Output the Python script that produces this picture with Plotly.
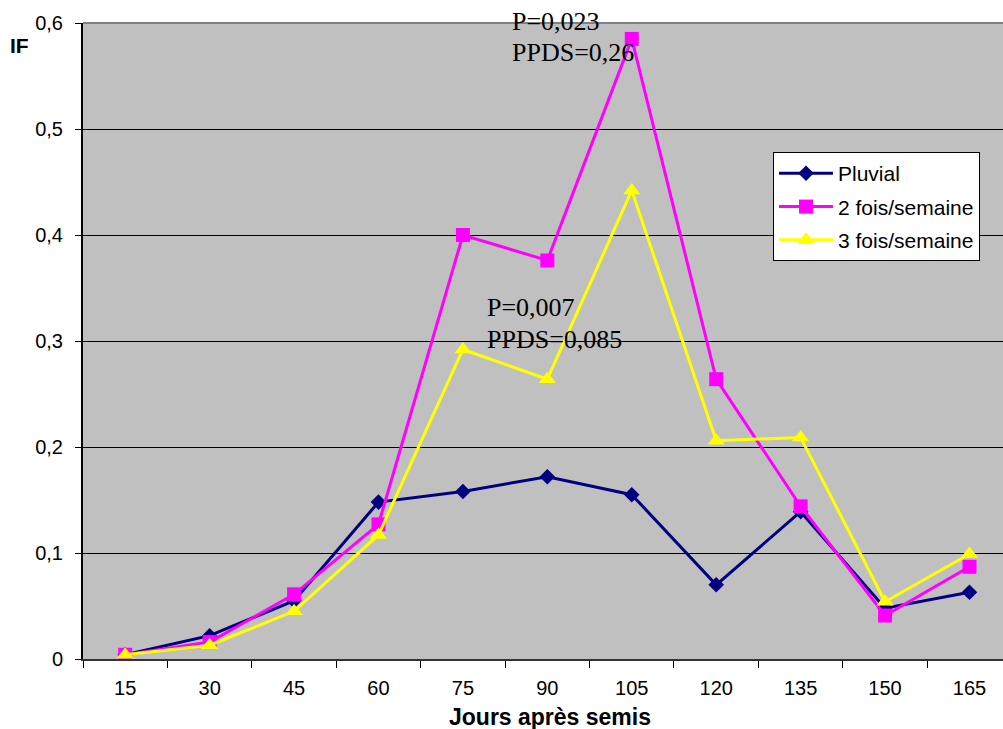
import plotly.graph_objects as go

# Days after sowing (x categories)
jours = ["15", "30", "45", "60", "75", "90", "105", "120", "135", "150", "165"]

# IF values per irrigation regime
pluvial = [0.004, 0.022, 0.055, 0.148, 0.158, 0.172, 0.155, 0.070, 0.139, 0.048, 0.063]
deux_fois = [0.004, 0.016, 0.061, 0.127, 0.400, 0.376, 0.585, 0.264, 0.144, 0.041, 0.087]
trois_fois = [0.004, 0.013, 0.045, 0.117, 0.292, 0.264, 0.442, 0.206, 0.209, 0.054, 0.099]

series = [
    ("Pluvial", pluvial, "#000080", "diamond", 12),
    ("2 fois/semaine", deux_fois, "#FF00FF", "square", 14),
    ("3 fois/semaine", trois_fois, "#FFFF00", "triangle-up", 15),
]

SANS = "Liberation Sans, Arial, sans-serif"
SERIF = "Liberation Serif, Times New Roman, serif"

fig = go.Figure()
for name, vals, color, symbol, size in series:
    fig.add_trace(go.Scatter(
        x=jours, y=vals, name=name, mode="lines+markers", legendgroup=name,
        line=dict(color=color, width=3),
        marker=dict(symbol=symbol, size=size, color=color, line=dict(width=0)),
    ))

# Statistical annotations
notes = [
    ("P=0,023", 0.4641, 1.0031),
    ("PPDS=0,26", 0.4641, 0.9544),
    ("P=0,007", 0.4370, 0.5519),
    ("PPDS=0,085", 0.4370, 0.5016),
]
for text, x, y in notes:
    fig.add_annotation(text=text, xref="paper", yref="paper", x=x, y=y,
                       xanchor="left", yanchor="middle", showarrow=False,
                       font=dict(family=SERIF, size=26, color="black"))

# Axis labels
fig.add_annotation(text="<b>IF</b>", xref="paper", yref="paper", x=-0.0810, y=0.9654,
                   xanchor="left", yanchor="middle", showarrow=False,
                   font=dict(family=SANS, size=21, color="black"))
fig.add_annotation(text="<b>Jours après semis</b>", xref="paper", yref="paper",
                   x=0.5076, y=-0.091, xanchor="center", yanchor="middle",
                   showarrow=False, font=dict(family=SANS, size=23, color="black"))

# Grey border along the top of the plot area
fig.add_shape(type="line", xref="paper", yref="paper", x0=0, x1=1, y0=1, y1=1,
              line=dict(color="#808080", width=2))

fig.update_layout(
    width=1003, height=729,
    margin=dict(l=83, r=0, t=23, b=70),
    paper_bgcolor="white", plot_bgcolor="#C0C0C0",
    separators=", ",
    font=dict(family=SANS, size=20, color="black"),
    showlegend=True,
    legend=dict(x=0.75, y=0.797, xanchor="left", yanchor="top",
                bgcolor="white", bordercolor="black", borderwidth=1,
                font=dict(family=SANS, size=21, color="black"),
                itemwidth=54, traceorder="grouped", tracegroupgap=3),
    xaxis=dict(type="category", range=[-0.5, 10.397], tickson="boundaries",
               ticks="outside", ticklen=7, tickwidth=1, tickcolor="black",
               showgrid=False, showline=True, linecolor="#333333", linewidth=2,
               tickfont=dict(family=SANS, size=20), ticklabelstandoff=10),
    yaxis=dict(range=[0, 0.6], dtick=0.1, tick0=0, ticks="outside", ticklen=6,
               tickwidth=1, tickcolor="black", showgrid=True, gridcolor="black",
               gridwidth=1, zeroline=False, showline=True, linecolor="black",
               linewidth=2, tickfont=dict(family=SANS, size=20),
               ticklabelstandoff=8),
)

fig.write_html("out.html")
